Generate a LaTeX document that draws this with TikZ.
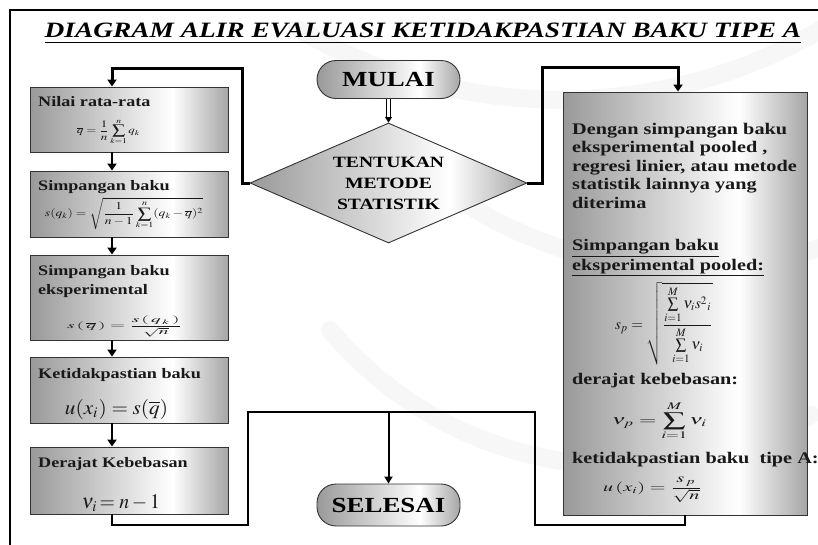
\documentclass[tikz,border=0pt]{standalone}
\usepackage{mathptmx}
\usepackage[no-math]{fontspec}
\usepackage{graphicx}
\setmainfont{Liberation Serif}
\newfontfamily\wideserif[FakeStretch=1.25]{Liberation Serif}
\usetikzlibrary{shapes.geometric,arrows.meta}

% grey - white - grey fill used by every box
\pgfdeclarehorizontalshading{boxshade}{100bp}{%
  color(0bp)=(black!40); color(25bp)=(black!40); color(61bp)=(white);
  color(75bp)=(black!35); color(100bp)=(black!35)}

% a formula squeezed into a given width and total height
\newcommand{\fitmath}[3]{\resizebox*{#1}{#2}{$\displaystyle #3$}}

\tikzset{
  box/.style={rectangle, draw=black!80, line width=0.9pt, shading=boxshade,
              inner sep=0pt},
  lbox/.style={box, minimum width=198pt},
  term/.style={box, rounded corners=19pt, minimum width=143pt},
  head/.style={anchor=base west, inner sep=0pt, text=black!90,
               font=\fontsize{14.5}{16}\wideserif\bfseries},
  rtext/.style={anchor=base west, inner sep=0pt, text=black!90,
               font=\fontsize{16.2}{18.5}\wideserif\bfseries},
  formula/.style={inner sep=0pt, text=black!90},
  tip/.style={-{Triangle[width=9pt,length=7pt]}},
  loopline/.style={line width=3pt},
  joinline/.style={line width=2.6pt},
  steparrow/.style={line width=2.5pt, tip},
  wmark/.style={line width=18pt, black!3, line cap=round}
}

\begin{document}
\begin{tikzpicture}[x=1pt,y=-1pt]
\useasboundingbox (0,0) rectangle (818,544);
\clip (0,0) rectangle (818,544);
\fill[white] (0,0) rectangle (818,544);

% faint watermark arcs in the background
\draw[wmark] (300,30) arc[start angle=120, end angle=20, radius=520];
\draw[wmark] (420,170) arc[start angle=130, end angle=40, radius=420];
\draw[wmark] (330,330) arc[start angle=140, end angle=60, radius=380];

% outer frame
\draw[line width=2.2pt] (10,10) rectangle (850,580);

% title
\node[inner sep=0pt, anchor=base, font=\fontsize{21.9}{24}\wideserif\bfseries\itshape]
  (title) at (423,37) {DIAGRAM ALIR EVALUASI KETIDAKPASTIAN BAKU TIPE A};
\draw[line width=1.4pt] ([yshift=-5.5pt]title.base west) -- ([yshift=-5.5pt]title.base east);

% start, decision and end
\node[term, minimum height=38pt, font=\fontsize{21.5}{24}\wideserif\bfseries]
  (start) at (388.5,79.5) {MULAI};
\node[box, diamond, aspect=2.31, minimum width=277pt, minimum height=120pt,
      align=center, font=\fontsize{15.7}{21}\wideserif\bfseries]
  (dia) at (388.5,183) {TENTUKAN\\METODE\\STATISTIK};
\node[term, minimum height=42pt, font=\fontsize{21.5}{24}\wideserif\bfseries]
  (stop) at (388.5,505) {SELESAI};

% left column of boxes
\node[lbox, minimum height=65pt] (b1) at (129,119.5) {};
\node[lbox, minimum height=66pt] (b2) at (129,204) {};
\node[lbox, minimum height=85pt] (b3) at (129,297.5) {};
\node[lbox, minimum height=66pt] (b4) at (129,390) {};
\node[lbox, minimum height=67pt] (b5) at (129,480.5) {};

\node[head] (h1) at (38,106) {Nilai rata-rata};
\node[formula] (f1) at (108.5,132) {\fitmath{63pt}{26pt}{\overline{q}=\frac{1}{n}\sum_{k=1}^{n}q_k}};
\node[head] (h2) at (38,190) {Simpangan baku};
\node[formula] (f2) at (124,214) {\fitmath{158pt}{32pt}{s(q_k)=\sqrt{\frac{1}{n-1}\sum_{k=1}^{n}(q_k-\overline{q})^2}}};
\node[head] (h3a) at (38,275) {Simpangan baku};
\node[head] (h3b) at (38,294.5) {eksperimental};
\node[formula] (f3) at (124.5,326.5) {\fitmath{115pt}{21pt}{s\,(\,\overline{q}\,)=\frac{s\,(\,q_{\,k}\,)}{\sqrt{n}}}};
\node[head] (h4) at (38,378) {Ketidakpastian baku};
\node[formula] (f4) at (116.5,409) {\fitmath{103pt}{20pt}{u(x_i)=s(\overline{q})}};
\node[formula] (f5) at (121,503) {\fitmath{78pt}{17pt}{\nu_i\!=n-1}};
\node[head] (h5) at (38,467) {Derajat Kebebasan};

% right box
\node[box, minimum width=244pt, minimum height=423pt] (rb) at (685,303.5) {};
\foreach \t [count=\i] in {Dengan simpangan baku, eksperimental pooled {,},
    regresi linier{,} atau metode, statistik lainnya yang, diterima}
  \node[rtext] (r\i) at (572,{134+18.5*(\i-1)}) {\t};
\node[rtext] (p1) at (572,250) {\underline{Simpangan baku}};
\node[rtext] (p2) at (572,270) {\underline{eksperimental pooled:}};
\node[formula] (g1) at (664,323.5) {\fitmath{98pt}{83pt}{s_p=\sqrt{\frac{\sum\limits_{i=1}^{M}\nu_i s^2{}_i}{\sum\limits_{i=1}^{M}\nu_i}}}};
\node[rtext] (p3) at (572,384) {derajat kebebasan:};
\node[formula] (g2) at (659.5,421) {\fitmath{95pt}{38pt}{\nu_p=\sum_{i=1}^{M}\nu_i}};
\node[rtext] (p4) at (572,463) {ketidakpastian baku\ \ tipe A:};
\node[formula] (g3) at (652.5,490) {\fitmath{99pt}{26pt}{u\,(x_i)=\frac{s_{\,p}}{\sqrt{n}}}};

% guide coordinates for the connectors
\coordinate (lx) at (112,0);
\coordinate (lt) at (242,68);
\coordinate (rx) at (678,0);
\coordinate (rt) at (542,67);
\coordinate (jl) at (248,412);
\coordinate (jr) at (535,412);
\coordinate (lb) at (112,525);
\coordinate (rbt) at (685,525);

% start to decision: hollow double-lined arrow
\draw[line width=0.7pt] ([xshift=-1.8pt]start.south) -- ([xshift=-1.8pt,yshift=5pt]dia.north);
\draw[line width=0.7pt] ([xshift=1.8pt]start.south) -- ([xshift=1.8pt,yshift=5pt]dia.north);
\fill ([xshift=-3.6pt,yshift=5.5pt]dia.north) -- ([xshift=3.6pt,yshift=5.5pt]dia.north)
      -- (dia.north) -- cycle;

% decision to both branches
\draw[loopline, tip] (dia.west) -| (lt) -| (b1.north -| lx);
\draw[loopline, tip] (dia.east) -| (rt) -| (rb.north -| rx);

% steps of the left column
\draw[steparrow] (b1.south -| lx) -- (b2.north -| lx);
\draw[steparrow] (b2.south -| lx) -- (b3.north -| lx);
\draw[steparrow] (b3.south -| lx) -- (b4.north -| lx);
\draw[steparrow] (b4.south -| lx) -- (b5.north -| lx);

% both branches join towards the end
\draw[joinline, line join=miter] (b5.south -| lx) -- (lb) -| (jl) -- (jr) |- (rbt) -- (rb.south -| rbt);
\draw[line width=2pt, -{Triangle[width=8pt,length=7pt]}] (stop.north |- jl) -- (stop.north);
\end{tikzpicture}
\end{document}
